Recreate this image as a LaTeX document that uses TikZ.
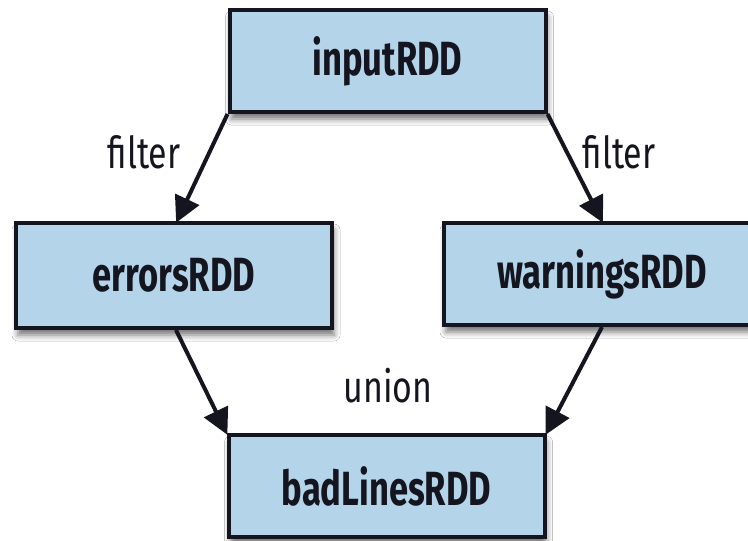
\documentclass[tikz,border=0pt]{standalone}
\usepackage{fontspec}
\setmainfont{Fira Sans}
\newfontfamily\lblfont[FakeStretch=0.77]{Fira Sans}
\newfontfamily\boxfont[FakeStretch=0.72]{Fira Sans}
\usetikzlibrary{arrows.meta,shadows.blur}
\definecolor{boxblue}{HTML}{B4D4EA}
\definecolor{ink}{HTML}{15151F}
\tikzset{
  rdd/.style={draw=ink, line width=4pt, fill=boxblue, text=ink,
    font=\boxfont\bfseries\fontsize{48}{56}\selectfont,
    minimum width=316pt, minimum height=102pt, inner sep=0pt,
    blur shadow={shadow xshift=2pt, shadow yshift=-7pt, shadow blur radius=6pt, shadow opacity=55}},
  flow/.style={draw=ink, line width=4pt, -{Triangle[length=26pt,width=26pt]}, shorten >=-2pt},
  lbl/.style={text=ink, font=\lblfont\fontsize{44}{50}\selectfont, inner sep=0pt}
}
\begin{document}
\begin{tikzpicture}[x=1pt,y=-1pt]
\useasboundingbox[fill=white] (0,0) rectangle (748,541);
\node[rdd] (input) at (387.5,61) {inputRDD};
\node[rdd, minimum height=105pt] (errors) at (174,275.5) {errorsRDD};
\node[rdd] (warnings) at (602,274) {warningsRDD};
\node[rdd] (bad) at (386.5,486) {badLinesRDD};
\draw[flow] (input.south west) -- ([xshift=3pt]errors.north);
\draw[flow] (input.south east) -- (warnings.north);
\draw[flow] ([xshift=2pt]errors.south) -- (bad.north west);
\draw[flow] (warnings.south) -- (bad.north east);
\node[lbl] (f1) at (144,152) {filter};
\node[lbl] (f2) at (619,152) {filter};
\node[lbl] (u) at (388,386) {union};
\end{tikzpicture}
\end{document}
